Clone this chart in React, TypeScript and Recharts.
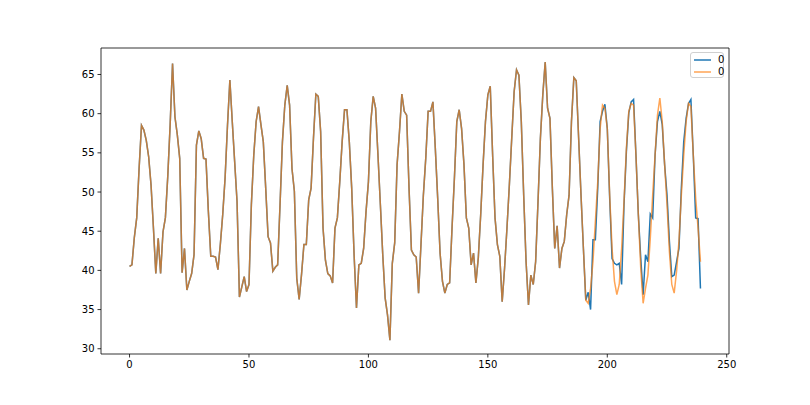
import React from "react";
import { LineChart, Line, XAxis, YAxis, ReferenceArea } from "recharts";

const historyValues = [
  40.5, 40.7, 44.2, 46.7, 53.0, 58.5, 57.9, 56.6, 54.5, 50.9,
  45.4, 39.6, 44.1, 39.6, 44.9, 46.7, 52.0, 58.6, 66.4, 59.6,
  57.3, 54.3, 39.7, 42.8, 37.5, 38.6, 39.6, 42.0, 56.0, 57.8,
  56.8, 54.3, 54.2, 47.5, 41.8, 41.8, 41.7, 40.1, 43.3, 47.1,
  51.8, 58.5, 64.3, 59.0, 53.9, 48.8, 36.6, 37.9, 39.2, 37.3,
  38.2, 48.4, 54.7, 59.0, 60.9, 58.6, 56.4, 50.5, 44.3, 43.5,
  39.9, 40.4, 40.7, 48.4, 56.4, 61.1, 63.6, 61.1, 53.0, 50.1,
  39.0, 36.3, 39.5, 43.3, 43.3, 49.0, 50.5, 56.9, 62.5, 62.2,
  57.7, 45.4, 41.3, 39.6, 39.3, 38.4, 45.4, 46.7, 51.3, 56.4,
  60.5, 60.5, 56.4, 50.5, 42.0, 35.2, 40.7, 40.9, 42.8, 47.5,
  51.3, 59.0, 62.2, 60.7, 54.7, 48.4, 42.0, 36.5, 34.3, 31.1,
  40.9, 43.5, 53.5, 57.7, 62.5, 60.3, 59.8, 50.5, 42.6, 42.0,
  41.7, 37.1, 43.3, 49.6, 54.3, 60.3, 60.3, 61.5, 55.6, 49.2,
  42.2, 38.6, 37.1, 38.2, 38.4, 45.4, 51.8, 59.0, 60.5, 58.1,
  53.5, 46.7, 45.4, 40.7, 42.2, 38.4, 41.6, 47.1, 53.5, 59.0,
  62.4, 63.5, 54.7, 46.7, 43.3, 41.8, 36.0, 40.3, 45.4, 50.9,
  56.9, 62.8, 65.6, 64.9, 59.0, 49.6, 41.1, 35.6, 39.4, 38.2,
  41.1, 48.8, 56.9, 62.4, 66.6, 60.7, 59.4, 50.5, 42.8, 45.7,
  40.3, 42.8, 43.7, 47.1, 49.6, 59.0, 64.6, 64.2, 56.9, 49.6,
  42.8, 36.2,
];

const actualTail = [
  37.2, 35.0, 43.9, 43.9, 50.5, 59.0, 60.3, 61.2, 58.1, 49.2,
  41.5, 40.9, 40.7, 40.9, 38.2, 48.4, 55.2, 60.1, 61.5, 61.8,
  54.7, 47.1, 41.6, 36.9, 42.0, 41.1, 47.2, 46.7, 54.7, 59.0,
  60.3, 58.6, 53.5, 49.6, 43.7, 39.2, 39.4, 41.1, 42.8, 50.5,
  56.4, 59.4, 61.3, 61.8, 54.7, 46.7, 46.6, 37.7,
];

const predictedTail = [
  35.8, 37.7, 41.1, 46.2, 51.3, 58.1, 61.1, 60.7, 58.1, 49.6,
  42.8, 38.6, 36.9, 38.2, 42.8, 48.8, 55.6, 60.3, 61.3, 61.1,
  54.7, 47.1, 40.3, 35.8, 37.7, 39.4, 44.1, 49.6, 54.7, 59.8,
  62.0, 59.0, 53.5, 48.4, 42.4, 38.2, 37.1, 39.9, 43.7, 49.6,
  54.7, 59.0, 61.3, 60.9, 54.7, 49.2, 45.4, 41.1,
];

const seriesA = historyValues.concat(actualTail);
const seriesB = historyValues.concat(predictedTail);

const xTicks = [0, 50, 100, 150, 200, 250];
const yTicks = [30, 35, 40, 45, 50, 55, 60, 65];
const legendLabels = ["0", "0"];

const X_DOMAIN: [number, number] = [-11.95, 250.95];
const Y_DOMAIN: [number, number] = [29.33, 68.38];

const data = seriesA.map((v, i) => ({ x: i, a: v, b: seriesB[i] }));

const BLUE = "#1f77b4";
const ORANGE = "#ff7f0e";
const ORANGE_OPACITY = 0.7;
const FONT = "DejaVu Sans, sans-serif";

export default function App() {
  return (
    <div style={{ position: "absolute", left: 0, top: 0, width: 810, height: 405, background: "#fff" }}>
      <LineChart
        width={810}
        height={405}
        data={data}
        margin={{ top: 48, right: 81, left: 61, bottom: 21 }}
      >
        <XAxis
          dataKey="x"
          type="number"
          domain={X_DOMAIN}
          allowDataOverflow
          ticks={xTicks}
          axisLine={false}
          tickSize={3.5}
          tickMargin={3}
          height={30}
          tick={{ fill: "#000", fontSize: 10, fontFamily: FONT }}
          tickLine={{ stroke: "#000", strokeWidth: 0.8 }}
          interval={0}
        />
        <YAxis
          type="number"
          domain={Y_DOMAIN}
          allowDataOverflow
          ticks={yTicks}
          axisLine={false}
          tickSize={3.5}
          tickMargin={3}
          width={40}
          tick={{ fill: "#000", fontSize: 10, fontFamily: FONT }}
          tickLine={{ stroke: "#000", strokeWidth: 0.8 }}
          interval={0}
        />
        <ReferenceArea
          x1={X_DOMAIN[0]}
          x2={X_DOMAIN[1]}
          y1={Y_DOMAIN[0]}
          y2={Y_DOMAIN[1]}
          fill="none"
          fillOpacity={0}
          stroke="#000"
          strokeWidth={0.8}
        />
        <Line
          type="linear"
          dataKey="a"
          stroke={BLUE}
          strokeWidth={1.5}
          dot={false}
          isAnimationActive={false}
        />
        <Line
          type="linear"
          dataKey="b"
          stroke={ORANGE}
          strokeOpacity={ORANGE_OPACITY}
          strokeWidth={1.5}
          dot={false}
          isAnimationActive={false}
        />
      </LineChart>
      <div
        style={{
          position: "absolute",
          left: 690,
          top: 52,
          width: 34,
          height: 26,
          border: "1px solid #d0d0d0",
          borderRadius: 3,
          background: "rgba(255,255,255,0.8)",
          boxSizing: "border-box",
          fontFamily: FONT,
          fontSize: 10,
        }}
      >
        {legendLabels.map((label, k) => (
          <div
            key={k}
            style={{ position: "absolute", left: 2, top: 1 + k * 12, height: 12, display: "flex", alignItems: "center" }}
          >
            <svg width={19} height={12} style={{ display: "block" }}>
              <line
                x1={1}
                y1={6}
                x2={18}
                y2={6}
                stroke={k === 0 ? BLUE : ORANGE}
                strokeOpacity={k === 0 ? 1 : ORANGE_OPACITY}
                strokeWidth={1.5}
              />
            </svg>
            <span style={{ marginLeft: 6, color: "#000", lineHeight: "12px" }}>{label}</span>
          </div>
        ))}
      </div>
    </div>
  );
}
